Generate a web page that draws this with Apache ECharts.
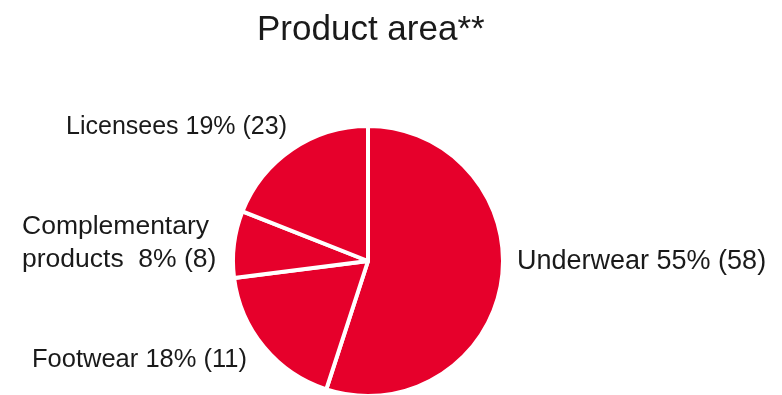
<!DOCTYPE html>
<html>
<head>
<meta charset="utf-8">
<script src="https://cdn.jsdelivr.net/npm/echarts@6/dist/echarts.min.js"></script>
<style>
  html, body { margin: 0; padding: 0; background: #fff; }
  #chart { width: 782px; height: 395px; }
</style>
</head>
<body>
<div id="chart"></div>
<script>
const categories = ["Underwear", "Footwear", "Complementary\nproducts ", "Licensees"];
const shares = [55, 18, 8, 19];
const prevShares = [58, 11, 8, 23];

// where each label sits (no leader lines in the original)
const labelSpots = [
    { x: 517, y: 262, align: "left", size: 27 },
    { x: 32, y: 360, align: "left", size: 25.5 },
    { x: 22, y: 243, align: "left", size: 26.5 },
    { x: 287, y: 127, align: "right", size: 25 },
];

const myChart = echarts.init(document.getElementById("chart"));
const option = {
    animation: false,
    title: {
        text: "Product area**",
        left: 252,
        top: 8,
        textStyle: {
            fontFamily: "Liberation Sans",
            fontSize: 35,
            fontWeight: "normal",
            color: "#1a1a1a",
        },
    },
    series: [
        {
            type: "pie",
            center: [368, 261],
            radius: 135,
            startAngle: 90,
            clockwise: true,
            itemStyle: {
                color: "#e6002b",
                borderColor: "#fff",
                borderWidth: 4,
            },
            label: {
                show: true,
                position: "outside",
                overflow: "none",
                fontFamily: "Liberation Sans",
                fontSize: 25,
                lineHeight: 33,
                color: "#1a1a1a",
                formatter: function (p) {
                    return p.name + " " + p.value + "% (" + prevShares[p.dataIndex] + ")";
                },
            },
            labelLine: { show: false },
            labelLayout: function (params) {
                const s = labelSpots[params.dataIndex];
                return { x: s.x, y: s.y, align: s.align, verticalAlign: "middle" };
            },
            emphasis: { disabled: true },
            data: categories.map((c, i) => ({
                name: c,
                value: shares[i],
                label: { fontSize: labelSpots[i].size },
            })),
        },
    ],
};
myChart.setOption(option);
</script>
</body>
</html>
